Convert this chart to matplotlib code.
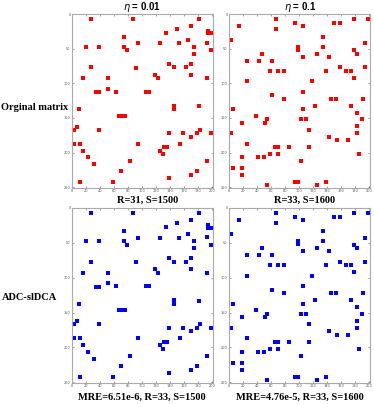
import numpy as np
import matplotlib
matplotlib.use("Agg")
import matplotlib.pyplot as plt

# nonzero positions (column, row)
x_a = [27, 86.5, 74, 134, 150, 170, 181.5, 165, 94.5, 126, 153, 174, 19.5, 39, 74.5, 79, 174,
       27, 91, 138, 146, 162, 170, 170, 15, 51, 118, 122, 51, 34, 38, 63, 106, 110,
       10.5, 146, 146, 181.5, 67, 71, 75, 7.5, 3.3, 39, 138, 158, 170, 177.5, 182,
       3, 11, 94.5, 154, 131, 135, 126, 130, 15, 23, 31, 83, 70, 11, 59, 138, 170, 177.5,
       194, 194, 198, 193, 198, 193, 197.6, 193]
y_a = [7.6, 7.6, 32.5, 27.7, 22, 17, 7.6, 38, 42.5, 42.5, 42.5, 47, 48, 47, 48, 52.6, 57,
       77, 78, 72, 77, 77, 72, 87.5, 93, 93, 87.5, 93, 107.5, 113, 113, 112, 112, 112,
       137, 132, 137, 133, 147, 147, 147, 162.5, 167, 167, 172, 172, 177, 172, 167,
       187, 187, 187, 187, 192, 192, 197, 202, 197, 207, 217, 212, 227, 242, 242, 237, 232, 227,
       24, 28, 28, 42, 52.6, 93, 172, 212]

x_b = [67, 94, 106, 150, 158, 178, 198.6, 14, 67, 2.4, 134, 134, 98, 98, 194, 46.4, 126, 142.6,
       106, 178, 182, 26, 42.6, 62, 158, 166.5, 174.6, 194, 58, 70, 78.5, 138, 178, 26, 118,
       106, 62, 78.5, 146, 152, 190.5, 6.2, 106, 122, 174.6, 182, 38.8, 54.5, 50.7, 102, 110,
       18.7, 190, 114, 182, 2.4, 142, 154, 170, 182, 26, 66, 70, 86, 114, 70, 58, 42, 50,
       18.7, 186, 102, 6, 18.7, 18.7, 54.5, 94, 98, 126, 138]
y_b = [7.6, 12.4, 17, 12.4, 12.4, 7.6, 7.6, 17, 22, 38, 32.5, 47, 47, 52, 42.5, 57, 57, 62,
       62, 52.6, 57, 67.5, 67.5, 67.5, 77, 82, 82, 77, 82, 82, 82, 82, 92, 97, 97,
       112, 117, 122, 122, 122, 122, 137, 137, 132, 132, 142.5, 147, 152, 157, 152, 152,
       157, 152, 167, 162, 172, 177, 182, 182, 172, 187, 192, 192, 192, 192, 202, 202, 207, 207,
       207, 202, 212, 222, 222, 232, 247, 242, 242, 247, 242]

col_titles = [r"$\it{\eta}$ = 0.01", r"$\it{\eta}$ = 0.1"]
row_labels = ["Orginal matrix", "ADC-slDCA"]
top_notes = ["R=31, S=1500", "R=33, S=1600"]
bottom_notes = ["MRE=6.51e-6, R=33, S=1500", "MRE=4.76e-5, R=33, S=1600"]
x_ticks = list(range(0, 201, 20))
y_ticks = list(range(0, 251, 50))

plt.rcParams["mathtext.default"] = "regular"

fig = plt.figure(figsize=(3.74, 4.04), dpi=100)
W, H = 374, 404


def make_ax(l, t, r, b):
    return fig.add_axes([l / W, 1 - b / H, (r - l) / W, (b - t) / H])


panels = [
    (make_ax(72, 14, 213, 188), x_a, y_a, "red"),
    (make_ax(229, 14, 370, 188), x_b, y_b, "red"),
    (make_ax(72, 208, 213, 383), x_a, y_a, "blue"),
    (make_ax(229, 208, 370, 383), x_b, y_b, "blue"),
]

for ax, xs, ys, c in panels:
    ax.plot(xs, ys, "s", color=c, ms=2.6, mew=0)
    ax.set_xlim(0, 201)
    ax.set_ylim(251, 0)
    ax.set_xticks(x_ticks)
    ax.set_yticks(y_ticks)
    ax.tick_params(direction="in", length=1.5, width=0.4, labelsize=2.5,
                   colors="#555555", top=True, right=True, pad=1)
    for s in ax.spines.values():
        s.set_color("#aaaaaa")
        s.set_linewidth(0.8)

serif = {"family": "Liberation Serif", "weight": "bold", "size": 7.5}
sans = {"family": "Liberation Sans", "weight": "bold", "size": 7}
fig.text(142 / W, 1 - 7 / H, col_titles[0], ha="center", va="center", **sans)
fig.text(300 / W, 1 - 7 / H, col_titles[1], ha="center", va="center", **sans)
fig.text(148 / W, 1 - 200 / H, top_notes[0], ha="center", va="center", **serif)
fig.text(305 / W, 1 - 200 / H, top_notes[1], ha="center", va="center", **serif)
fig.text(142 / W, 1 - 397 / H, bottom_notes[0], ha="center", va="center", **serif)
fig.text(300 / W, 1 - 397 / H, bottom_notes[1], ha="center", va="center", **serif)
fig.text(35 / W, 1 - 108 / H, row_labels[0], ha="center", va="center", **serif)
fig.text(30 / W, 1 - 298 / H, row_labels[1], ha="center", va="center", **serif)

fig.savefig("out.png", dpi=100)
